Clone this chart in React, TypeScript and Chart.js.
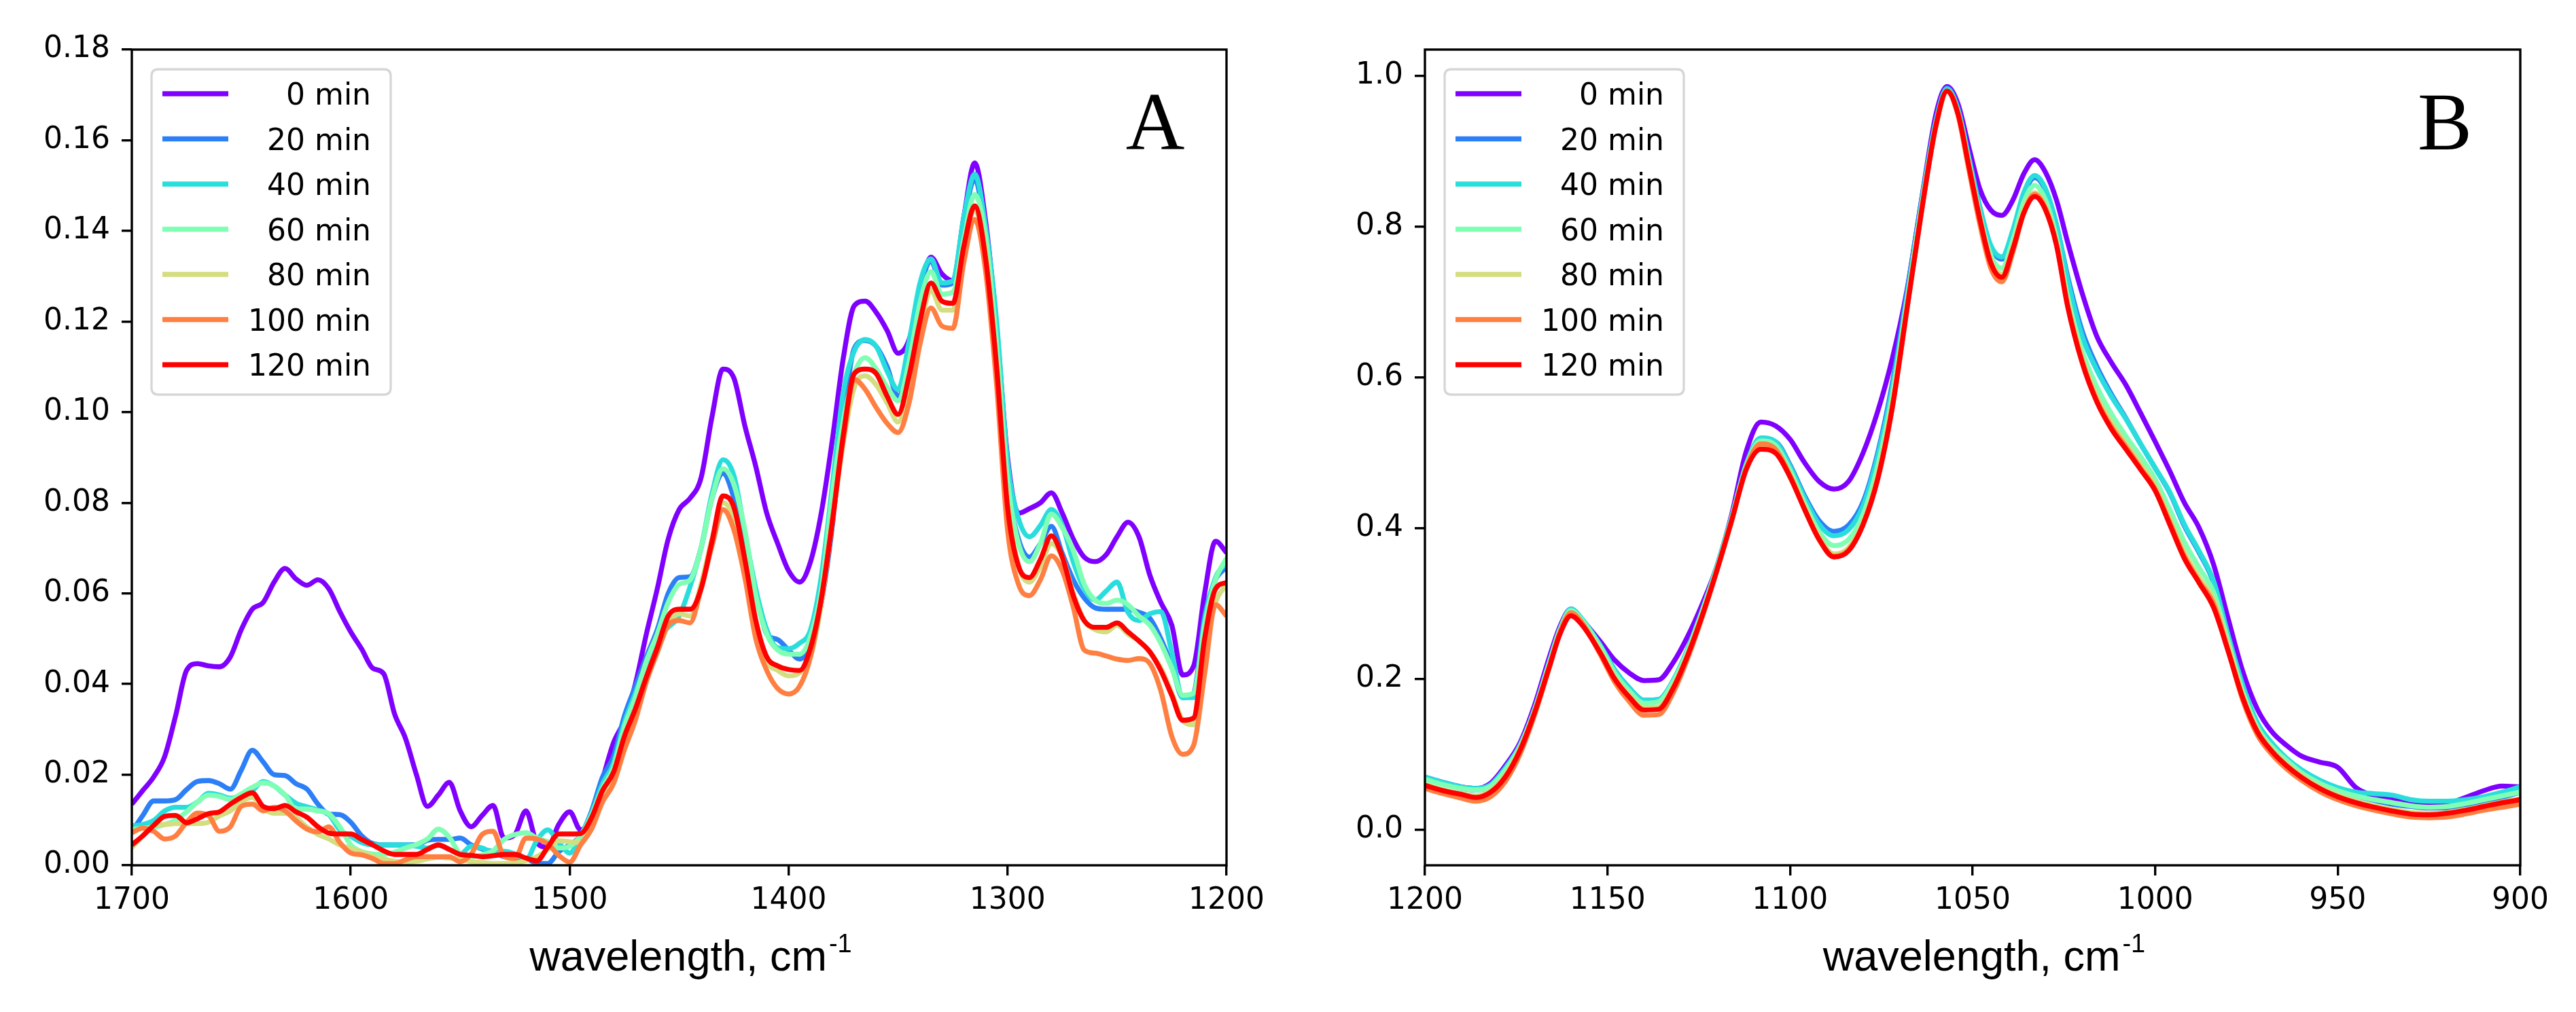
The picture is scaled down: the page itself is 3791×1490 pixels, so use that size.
import React, { useEffect, useRef } from "react";
import { Chart, registerables } from "chart.js";

Chart.register(...registerables);

const SERIES_LABELS = ["0 min", "20 min", "40 min", "60 min", "80 min", "100 min", "120 min"];
const SERIES_COLORS = ["#8000ff", "#2c7ff6", "#2adddd", "#80ffb4", "#d4dd80", "#ff7f42", "#ff0000"];

// ---------- Panel A (1700 - 1200 cm-1) ----------
const WAVE_A = [
  1700, 1695, 1690, 1685, 1680, 1675, 1670, 1665, 1660, 1655,
  1650, 1645, 1640, 1635, 1630, 1625, 1620, 1615, 1610, 1605,
  1600, 1595, 1590, 1585, 1580, 1575, 1570, 1565, 1560, 1555,
  1550, 1545, 1540, 1535, 1530, 1525, 1520, 1515, 1510, 1505,
  1500, 1495, 1490, 1485, 1480, 1475, 1470, 1465, 1460, 1455,
  1450, 1445, 1440, 1435, 1430, 1425, 1420, 1415, 1410, 1405,
  1400, 1395, 1390, 1385, 1380, 1375, 1370, 1365, 1360, 1355,
  1350, 1345, 1340, 1335, 1330, 1325, 1320, 1315, 1310, 1305,
  1300, 1295, 1290, 1285, 1280, 1275, 1270, 1265, 1260, 1255,
  1250, 1245, 1240, 1235, 1230, 1225, 1220, 1215, 1210, 1205,
  1200,
];

const A_0 = [
  0.0135, 0.0165, 0.0195, 0.024, 0.033, 0.043, 0.0445, 0.044, 0.0438, 0.046,
  0.052, 0.0565, 0.058, 0.0625, 0.0655, 0.0632, 0.0618, 0.063, 0.061, 0.056,
  0.0515, 0.0477, 0.0435, 0.0423, 0.0334, 0.028, 0.020, 0.013, 0.0155, 0.0183,
  0.012, 0.0085, 0.011, 0.0132, 0.006, 0.0068, 0.012, 0.005, 0.004, 0.009,
  0.0118, 0.0078, 0.011, 0.019, 0.027, 0.032, 0.040, 0.051, 0.061, 0.072,
  0.0785, 0.081, 0.0855, 0.099, 0.1095, 0.1075, 0.097, 0.088, 0.0777, 0.071,
  0.065, 0.0625, 0.067, 0.078, 0.094, 0.112, 0.1235, 0.1245, 0.122, 0.118,
  0.113, 0.116, 0.127, 0.1342, 0.1305, 0.129, 0.143, 0.155, 0.142, 0.119,
  0.090, 0.0777, 0.0787, 0.080, 0.0822, 0.0777, 0.072, 0.068, 0.067, 0.0685,
  0.0725, 0.0757, 0.0725, 0.064, 0.058, 0.053, 0.042, 0.044, 0.060, 0.0715,
  0.069,
];
const A_20 = [
  0.0074, 0.011, 0.0142, 0.0142, 0.0145, 0.0167, 0.0185, 0.0187, 0.018, 0.0168,
  0.021, 0.0254, 0.0228, 0.020, 0.0198, 0.018, 0.0168, 0.0135, 0.0113, 0.0112,
  0.0095, 0.0065, 0.0048, 0.0045, 0.0045, 0.0045, 0.0045, 0.0055, 0.0057, 0.0057,
  0.006, 0.0045, 0.0036, 0.003, 0.0019, 0.0016, 0.0014, 0.0005, 0.0004, 0.003,
  0.0045, 0.0066, 0.012, 0.0195, 0.024, 0.033, 0.0395, 0.046, 0.052, 0.060,
  0.0635, 0.0637, 0.070, 0.081, 0.0865, 0.081, 0.070, 0.060, 0.051, 0.0498,
  0.0475, 0.0455, 0.049, 0.058, 0.075, 0.0985, 0.1141, 0.1158, 0.1145, 0.110,
  0.1035, 0.112, 0.1265, 0.1333, 0.128, 0.1285, 0.142, 0.1515, 0.1387, 0.118,
  0.085, 0.072, 0.068, 0.071, 0.0748, 0.0688, 0.063, 0.059, 0.0568, 0.0565,
  0.0565, 0.0565, 0.0558, 0.0545, 0.050, 0.044, 0.037, 0.038, 0.055, 0.063,
  0.0658,
];
const A_40 = [
  0.0087, 0.009, 0.0099, 0.012, 0.0128, 0.0128, 0.014, 0.0159, 0.0155, 0.0148,
  0.0155, 0.0165, 0.0185, 0.0175, 0.0155, 0.0137, 0.0129, 0.0122, 0.0112, 0.0078,
  0.0064, 0.005, 0.0045, 0.0045, 0.0045, 0.0045, 0.0042, 0.0038, 0.0044, 0.0035,
  0.0025, 0.0042, 0.0038, 0.0029, 0.0031, 0.0025, 0.0012, 0.0055, 0.0078, 0.005,
  0.0027, 0.0065, 0.0115, 0.018, 0.0225, 0.0315, 0.038, 0.0445, 0.050, 0.0525,
  0.055, 0.0615, 0.070, 0.082, 0.0895, 0.086, 0.0735, 0.061, 0.052, 0.048,
  0.0478, 0.049, 0.052, 0.064, 0.084, 0.1045, 0.1135, 0.116, 0.1145, 0.109,
  0.105, 0.1155, 0.1285, 0.1338, 0.1285, 0.129, 0.143, 0.1525, 0.1407, 0.12,
  0.089, 0.0765, 0.0725, 0.075, 0.0785, 0.075, 0.067, 0.061, 0.0585, 0.0605,
  0.0625, 0.0558, 0.054, 0.0555, 0.056, 0.047, 0.037, 0.037, 0.054, 0.0635,
  0.0668,
];
const A_60 = [
  0.0079, 0.0082, 0.0084, 0.009, 0.010, 0.0118, 0.014, 0.0155, 0.0152, 0.0145,
  0.0158, 0.0172, 0.0182, 0.0175, 0.0155, 0.0124, 0.0124, 0.012, 0.0114, 0.0085,
  0.0045, 0.003, 0.0025, 0.0024, 0.0029, 0.0038, 0.0046, 0.0058, 0.008, 0.0062,
  0.0025, 0.0019, 0.0023, 0.0032, 0.0057, 0.0068, 0.0072, 0.006, 0.0052, 0.0038,
  0.0042, 0.0065, 0.011, 0.017, 0.0215, 0.0305, 0.037, 0.045, 0.051, 0.058,
  0.062, 0.063, 0.070, 0.081, 0.0875, 0.084, 0.074, 0.0595, 0.051, 0.0475,
  0.0466, 0.0466, 0.0505, 0.061, 0.082, 0.098, 0.1085, 0.112, 0.1095, 0.1055,
  0.1025, 0.111, 0.124, 0.131, 0.126, 0.1265, 0.138, 0.148, 0.1387, 0.115,
  0.085, 0.071, 0.067, 0.071, 0.0775, 0.0745, 0.0695, 0.062, 0.0585, 0.0578,
  0.0585, 0.0575, 0.055, 0.053, 0.049, 0.0435, 0.0375, 0.038, 0.053, 0.063,
  0.0678,
];
const A_80 = [
  0.0039, 0.0065, 0.0088, 0.009, 0.0092, 0.0092, 0.0092, 0.0095, 0.0109, 0.012,
  0.014, 0.015, 0.0125, 0.0115, 0.0115, 0.0105, 0.0084, 0.0068, 0.0058, 0.0045,
  0.0037, 0.0029, 0.002, 0.0014, 0.0009, 0.0007, 0.0009, 0.0014, 0.0018, 0.0016,
  0.0014, 0.0008, 0.0006, 0.0004, 0.0004, 0.0005, 0.001, 0.0019, 0.0035, 0.0054,
  0.0052, 0.005, 0.0095, 0.0155, 0.0195, 0.027, 0.0335, 0.041, 0.047, 0.053,
  0.0555, 0.055, 0.062, 0.072, 0.080, 0.0765, 0.066, 0.054, 0.0451, 0.043,
  0.0418, 0.0425, 0.046, 0.058, 0.076, 0.0935, 0.1055, 0.108, 0.106, 0.102,
  0.0978, 0.106, 0.118, 0.127, 0.1225, 0.1225, 0.136, 0.1445, 0.1348, 0.109,
  0.080, 0.066, 0.0625, 0.066, 0.071, 0.068, 0.060, 0.054, 0.052, 0.0515,
  0.053, 0.051, 0.0495, 0.047, 0.0435, 0.038, 0.032, 0.031, 0.047, 0.058,
  0.0619,
];
const A_100 = [
  0.0072, 0.0082, 0.0075, 0.0058, 0.0065, 0.0095, 0.0115, 0.011, 0.0075, 0.0085,
  0.013, 0.0135, 0.012, 0.0128, 0.012, 0.0098, 0.008, 0.0074, 0.0085, 0.005,
  0.0027, 0.0023, 0.0015, 0.0004, 0.0004, 0.0012, 0.0019, 0.0019, 0.0019, 0.0019,
  0.0008, 0.0025, 0.0068, 0.0075, 0.002, 0.0015, 0.006, 0.0058, 0.0047, 0.0022,
  0.0007, 0.0045, 0.008, 0.014, 0.018, 0.0255, 0.032, 0.0405, 0.047, 0.053,
  0.054, 0.0535, 0.061, 0.0705, 0.0785, 0.074, 0.0635, 0.050, 0.043, 0.039,
  0.0378, 0.0395, 0.046, 0.059, 0.076, 0.094, 0.1072, 0.105, 0.101, 0.0975,
  0.0955, 0.102, 0.115, 0.123, 0.119, 0.1185, 0.133, 0.1425, 0.131, 0.106,
  0.074, 0.062, 0.0595, 0.063, 0.0683, 0.065, 0.057, 0.0475, 0.0468, 0.0462,
  0.0455, 0.0452, 0.0456, 0.0445, 0.0385, 0.0285, 0.0245, 0.0265, 0.0422, 0.0575,
  0.055,
];
const A_120 = [
  0.0045, 0.0065, 0.0088, 0.0108, 0.011, 0.0094, 0.0103, 0.0114, 0.0118, 0.0135,
  0.015, 0.016, 0.013, 0.0125, 0.0132, 0.0118, 0.0106, 0.0085, 0.0071, 0.0069,
  0.0069, 0.0057, 0.0045, 0.0032, 0.0024, 0.0024, 0.0024, 0.0035, 0.0045, 0.0035,
  0.0024, 0.0022, 0.0019, 0.0021, 0.0024, 0.0024, 0.0016, 0.001, 0.004, 0.0069,
  0.0069, 0.007, 0.0105, 0.0165, 0.0205, 0.0285, 0.0345, 0.0415, 0.048, 0.055,
  0.0565, 0.0565, 0.061, 0.0715, 0.0815, 0.079, 0.0675, 0.054, 0.046, 0.044,
  0.0432, 0.043, 0.048, 0.059, 0.076, 0.095, 0.1085, 0.1095, 0.1085, 0.1035,
  0.0995, 0.108, 0.120, 0.1285, 0.1245, 0.124, 0.1365, 0.1455, 0.1338, 0.110,
  0.079, 0.066, 0.0635, 0.0675, 0.0727, 0.068, 0.0595, 0.054, 0.0525, 0.0525,
  0.0535, 0.0515, 0.0495, 0.0471, 0.043, 0.0375, 0.032, 0.0325, 0.050, 0.061,
  0.0624,
];

const TICKS_XA = [1700, 1600, 1500, 1400, 1300, 1200];
const TICKS_YA = [0, 0.02, 0.04, 0.06, 0.08, 0.1, 0.12, 0.14, 0.16, 0.18];

// ---------- Panel B (1200 - 900 cm-1) ----------
const WAVE_B = [
  1200, 1195, 1190, 1186, 1182, 1178, 1174, 1170, 1166, 1163,
  1160, 1157, 1152, 1148, 1144, 1140, 1136, 1132, 1128, 1124,
  1120, 1116, 1112, 1108, 1104, 1100, 1096, 1092, 1088, 1084,
  1080, 1076, 1072, 1068, 1064, 1060, 1057, 1054, 1051, 1048,
  1045, 1042, 1039, 1036, 1033, 1030, 1027, 1024, 1020, 1016,
  1012, 1008, 1004, 1000, 996, 992, 988, 984, 980, 976,
  972, 968, 964, 960, 955, 950, 945, 940, 935, 930,
  925, 920, 915, 910, 905, 900,
];

const B_0 = [
  0.070, 0.063, 0.057, 0.055, 0.062, 0.085, 0.115, 0.165, 0.228, 0.270,
  0.293, 0.279, 0.250, 0.225, 0.208, 0.198, 0.199, 0.222, 0.257, 0.300,
  0.350, 0.418, 0.502, 0.541, 0.536, 0.518, 0.487, 0.462, 0.452, 0.462,
  0.500, 0.555, 0.625, 0.715, 0.835, 0.950, 0.986, 0.963, 0.905, 0.850,
  0.822, 0.815, 0.835, 0.870, 0.889, 0.872, 0.835, 0.780, 0.712, 0.655,
  0.620, 0.590, 0.553, 0.515, 0.476, 0.434, 0.401, 0.352, 0.280, 0.210,
  0.160, 0.130, 0.112, 0.098, 0.090, 0.083, 0.056, 0.045, 0.040, 0.037,
  0.034, 0.035, 0.043, 0.052, 0.058, 0.057,
];
const B_20 = [
  0.068, 0.061, 0.055, 0.053, 0.058, 0.079, 0.108, 0.155, 0.216, 0.263,
  0.289, 0.278, 0.245, 0.212, 0.188, 0.172, 0.173, 0.198, 0.240, 0.292,
  0.350, 0.415, 0.485, 0.518, 0.515, 0.484, 0.443, 0.410, 0.396, 0.404,
  0.435, 0.500, 0.592, 0.712, 0.835, 0.943, 0.984, 0.957, 0.892, 0.826,
  0.773, 0.757, 0.792, 0.842, 0.865, 0.848, 0.802, 0.735, 0.662, 0.615,
  0.578, 0.546, 0.512, 0.480, 0.447, 0.403, 0.368, 0.328, 0.256, 0.190,
  0.140, 0.112, 0.092, 0.077, 0.062, 0.052, 0.045, 0.039, 0.034, 0.031,
  0.029, 0.029, 0.032, 0.037, 0.043, 0.050,
];
const B_40 = [
  0.070, 0.063, 0.057, 0.055, 0.060, 0.082, 0.112, 0.160, 0.222, 0.267,
  0.293, 0.280, 0.245, 0.212, 0.188, 0.172, 0.173, 0.198, 0.240, 0.292,
  0.350, 0.415, 0.485, 0.520, 0.515, 0.482, 0.440, 0.405, 0.390, 0.398,
  0.430, 0.495, 0.585, 0.705, 0.830, 0.940, 0.983, 0.955, 0.890, 0.825,
  0.775, 0.760, 0.795, 0.845, 0.868, 0.850, 0.802, 0.730, 0.655, 0.610,
  0.575, 0.545, 0.512, 0.480, 0.448, 0.405, 0.370, 0.330, 0.258, 0.192,
  0.142, 0.115, 0.095, 0.080, 0.066, 0.056, 0.050, 0.048, 0.046, 0.040,
  0.038, 0.038, 0.040, 0.044, 0.050, 0.057,
];
const B_60 = [
  0.067, 0.060, 0.055, 0.053, 0.058, 0.079, 0.110, 0.158, 0.220, 0.265,
  0.291, 0.278, 0.243, 0.208, 0.184, 0.168, 0.170, 0.196, 0.238, 0.290,
  0.348, 0.413, 0.483, 0.516, 0.510, 0.477, 0.433, 0.395, 0.377, 0.385,
  0.418, 0.482, 0.575, 0.700, 0.827, 0.937, 0.980, 0.952, 0.885, 0.815,
  0.762, 0.745, 0.782, 0.832, 0.855, 0.835, 0.785, 0.708, 0.635, 0.588,
  0.552, 0.522, 0.495, 0.465, 0.425, 0.382, 0.348, 0.315, 0.250, 0.183,
  0.136, 0.110, 0.092, 0.076, 0.062, 0.052, 0.045, 0.040, 0.036, 0.032,
  0.030, 0.031, 0.035, 0.040, 0.045, 0.050,
];
const B_80 = [
  0.060, 0.053, 0.048, 0.045, 0.052, 0.072, 0.107, 0.157, 0.217, 0.262,
  0.287, 0.274, 0.237, 0.202, 0.178, 0.162, 0.163, 0.190, 0.234, 0.287,
  0.346, 0.411, 0.479, 0.508, 0.503, 0.471, 0.428, 0.388, 0.366, 0.374,
  0.408, 0.470, 0.565, 0.693, 0.822, 0.936, 0.980, 0.951, 0.882, 0.812,
  0.755, 0.737, 0.774, 0.822, 0.845, 0.826, 0.778, 0.700, 0.626, 0.575,
  0.540, 0.512, 0.485, 0.456, 0.412, 0.368, 0.335, 0.305, 0.244, 0.178,
  0.132, 0.106, 0.087, 0.072, 0.057, 0.046, 0.038, 0.032, 0.027, 0.023,
  0.022, 0.023, 0.027, 0.032, 0.037, 0.041,
];
const B_100 = [
  0.055, 0.048, 0.042, 0.038, 0.044, 0.064, 0.100, 0.152, 0.214, 0.262,
  0.288, 0.275, 0.233, 0.196, 0.170, 0.152, 0.153, 0.182, 0.228, 0.283,
  0.344, 0.410, 0.480, 0.512, 0.505, 0.470, 0.425, 0.385, 0.363, 0.371,
  0.405, 0.466, 0.560, 0.690, 0.820, 0.935, 0.980, 0.948, 0.875, 0.803,
  0.745, 0.727, 0.766, 0.818, 0.843, 0.824, 0.776, 0.697, 0.622, 0.570,
  0.535, 0.508, 0.480, 0.452, 0.408, 0.363, 0.330, 0.300, 0.238, 0.172,
  0.126, 0.100, 0.081, 0.066, 0.051, 0.040, 0.032, 0.026, 0.021, 0.017,
  0.016, 0.017, 0.021, 0.026, 0.030, 0.034,
];
const B_120 = [
  0.059, 0.052, 0.047, 0.043, 0.050, 0.070, 0.105, 0.155, 0.215, 0.260,
  0.284, 0.272, 0.235, 0.200, 0.176, 0.159, 0.160, 0.188, 0.232, 0.285,
  0.345, 0.410, 0.478, 0.505, 0.500, 0.468, 0.425, 0.385, 0.362, 0.370,
  0.405, 0.465, 0.560, 0.690, 0.820, 0.935, 0.980, 0.950, 0.880, 0.810,
  0.752, 0.733, 0.770, 0.818, 0.840, 0.822, 0.775, 0.695, 0.620, 0.568,
  0.532, 0.505, 0.478, 0.450, 0.405, 0.360, 0.328, 0.295, 0.237, 0.175,
  0.130, 0.104, 0.085, 0.070, 0.055, 0.044, 0.036, 0.030, 0.025, 0.021,
  0.020, 0.022, 0.026, 0.031, 0.036, 0.040,
];

const TICKS_XB = [1200, 1150, 1100, 1050, 1000, 950, 900];
const TICKS_YB = [0, 0.2, 0.4, 0.6, 0.8, 1.0];

const X_TITLE_MAIN = "wavelength, cm";
const X_TITLE_SUP = "-1";

type PanelCfg = {
  canvasLeft: number;
  canvasWidth: number;
  plotLeft: number;
  plotRight: number;
  xs: number[];
  series: number[][];
  xMin: number;
  xMax: number;
  xTicks: number[];
  yMin: number;
  yMax: number;
  yTicks: number[];
  yDecimals: number;
  letter: string;
  letterX: number;
};

const H = 1490;
const PLOT_TOP = 73;
const PLOT_BOTTOM = 1274;
const SANS = "'DejaVu Sans', 'Noto Sans', sans-serif";
const ARIAL = "'Liberation Sans', Arial, sans-serif";
const LINE_W = 7.3;

function makeDecor(letter: string, letterX: number) {
  return {
    id: "decor" + letter,
    afterDatasetsDraw(chart: any) {
      const { ctx, chartArea: a } = chart;
      ctx.save();
      // legend frame
      const bx = a.left + 29;
      const by = a.top + 29;
      const bw = 352;
      const bh = 479;
      const r = 10;
      ctx.beginPath();
      ctx.moveTo(bx + r, by);
      ctx.lineTo(bx + bw - r, by);
      ctx.quadraticCurveTo(bx + bw, by, bx + bw, by + r);
      ctx.lineTo(bx + bw, by + bh - r);
      ctx.quadraticCurveTo(bx + bw, by + bh, bx + bw - r, by + bh);
      ctx.lineTo(bx + r, by + bh);
      ctx.quadraticCurveTo(bx, by + bh, bx, by + bh - r);
      ctx.lineTo(bx, by + r);
      ctx.quadraticCurveTo(bx, by, bx + r, by);
      ctx.closePath();
      ctx.fillStyle = "rgba(255,255,255,0.8)";
      ctx.fill();
      ctx.strokeStyle = "#d6d6d6";
      ctx.lineWidth = 3.3;
      ctx.stroke();
      chart.data.datasets.forEach((ds: any, i: number) => {
        const y = by + 36 + i * 66.5;
        ctx.beginPath();
        ctx.strokeStyle = ds.borderColor;
        ctx.lineWidth = LINE_W;
        ctx.lineCap = "butt";
        ctx.moveTo(bx + 16, y);
        ctx.lineTo(bx + 113, y);
        ctx.stroke();
        ctx.fillStyle = "#000";
        ctx.font = "44px " + SANS;
        ctx.textAlign = "right";
        ctx.textBaseline = "alphabetic";
        ctx.fillText(ds.label, bx + 323, y + 16);
      });
      // spines
      ctx.strokeStyle = "#000";
      ctx.lineWidth = 3.4;
      ctx.strokeRect(a.left, a.top, a.right - a.left, a.bottom - a.top);
      // panel letter
      ctx.fillStyle = "#000";
      ctx.font = "120px 'Liberation Serif', 'DejaVu Serif', serif";
      ctx.textAlign = "center";
      ctx.textBaseline = "alphabetic";
      ctx.fillText(letter, letterX, 220);
      // x-axis title with superscript
      ctx.textAlign = "left";
      ctx.font = "63px " + ARIAL;
      const wMain = ctx.measureText(X_TITLE_MAIN).width;
      ctx.font = "38px " + ARIAL;
      const wSup = ctx.measureText(X_TITLE_SUP).width;
      const total = wMain + 3 + wSup;
      const cx = (a.left + a.right) / 2 + 17;
      const x0 = cx - total / 2;
      ctx.font = "63px " + ARIAL;
      ctx.fillText(X_TITLE_MAIN, x0, 1429);
      ctx.font = "38px " + ARIAL;
      ctx.fillText(X_TITLE_SUP, x0 + wMain + 3, 1402);
      ctx.restore();
    },
  };
}

function Panel(p: PanelCfg) {
  const ref = useRef<HTMLCanvasElement | null>(null);
  useEffect(() => {
    if (!ref.current) return;
    const datasets = p.series.map((vals, i) => ({
      label: SERIES_LABELS[i],
      data: p.xs.map((x, j) => ({ x, y: vals[j] })),
      borderColor: SERIES_COLORS[i],
      backgroundColor: SERIES_COLORS[i],
      borderWidth: LINE_W,
      pointRadius: 0,
      fill: false,
      cubicInterpolationMode: "monotone" as const,
      order: p.series.length - 1 - i,
    }));
    const chart = new Chart(ref.current, {
      type: "line",
      data: { datasets },
      options: {
        animation: false,
        responsive: false,
        maintainAspectRatio: false,
        devicePixelRatio: 1,
        layout: { padding: { left: 0, top: PLOT_TOP, right: p.plotRight, bottom: 0 } },
        plugins: { legend: { display: false }, tooltip: { enabled: false } },
        scales: {
          x: {
            type: "linear",
            reverse: true,
            min: p.xMin,
            max: p.xMax,
            afterBuildTicks: (s: any) => {
              s.ticks = p.xTicks.map((v) => ({ value: v }));
            },
            afterFit: (s: any) => {
              s.height = H - PLOT_BOTTOM;
            },
            grid: {
              display: true,
              drawOnChartArea: false,
              drawTicks: true,
              tickLength: 15,
              color: "#000",
              lineWidth: 3.4,
            },
            border: { display: false },
            ticks: {
              autoSkip: false,
              maxRotation: 0,
              padding: 11,
              color: "#000",
              font: { family: SANS, size: 44 },
              callback: (v: any) => String(v),
            },
          },
          y: {
            type: "linear",
            min: p.yMin,
            max: p.yMax,
            afterBuildTicks: (s: any) => {
              s.ticks = p.yTicks.map((v) => ({ value: v }));
            },
            afterFit: (s: any) => {
              s.width = p.plotLeft;
            },
            grid: {
              display: true,
              drawOnChartArea: false,
              drawTicks: true,
              tickLength: 15,
              color: "#000",
              lineWidth: 3.4,
            },
            border: { display: false },
            ticks: {
              autoSkip: false,
              padding: 17,
              color: "#000",
              font: { family: SANS, size: 44 },
              callback: (v: any) => Number(v).toFixed(p.yDecimals),
            },
          },
        },
      },
      plugins: [makeDecor(p.letter, p.letterX)],
    });
    return () => chart.destroy();
  }, []);
  return (
    <canvas
      ref={ref}
      width={p.canvasWidth}
      height={H}
      style={{ position: "absolute", left: p.canvasLeft, top: 0, width: p.canvasWidth, height: H }}
    />
  );
}

export default function App() {
  return (
    <div
      style={{
        position: "absolute",
        left: 0,
        top: 0,
        width: 3791,
        height: H,
        background: "#fff",
        overflow: "hidden",
      }}
    >
      <Panel
        canvasLeft={0}
        canvasWidth={1900}
        plotLeft={194}
        plotRight={95}
        xs={WAVE_A}
        series={[A_0, A_20, A_40, A_60, A_80, A_100, A_120]}
        xMin={1200}
        xMax={1700}
        xTicks={TICKS_XA}
        yMin={0}
        yMax={0.18}
        yTicks={TICKS_YA}
        yDecimals={2}
        letter="A"
        letterX={1700}
      />
      <Panel
        canvasLeft={1900}
        canvasWidth={1891}
        plotLeft={197}
        plotRight={82}
        xs={WAVE_B}
        series={[B_0, B_20, B_40, B_60, B_80, B_100, B_120]}
        xMin={900}
        xMax={1200}
        xTicks={TICKS_XB}
        yMin={-0.047}
        yMax={1.035}
        yTicks={TICKS_YB}
        yDecimals={1}
        letter="B"
        letterX={1698}
      />
    </div>
  );
}
